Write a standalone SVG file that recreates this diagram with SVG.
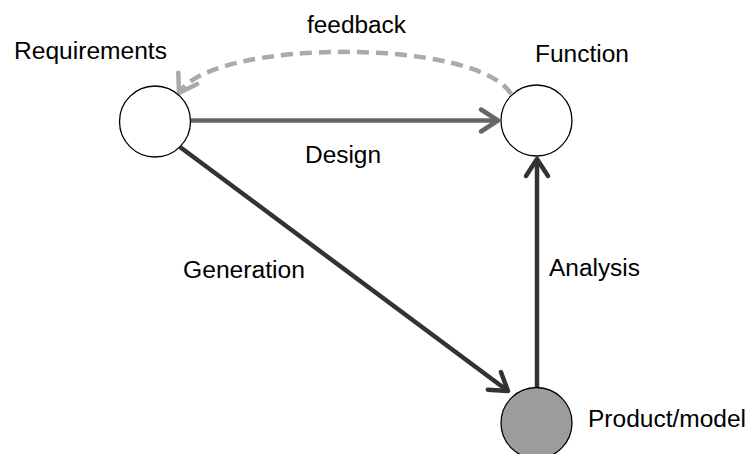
<svg xmlns="http://www.w3.org/2000/svg" width="749" height="454" viewBox="0 0 749 454">
  <style>
    .lbl { font-family: "Liberation Sans", Arial, sans-serif; font-size: 23px; fill: #000; }
    .node { stroke: #000; stroke-width: 1.3; }
    .edge { fill: none; stroke-width: 4.5; }
  </style>
  <defs>
    <marker id="arrMid" markerUnits="userSpaceOnUse" markerWidth="30" markerHeight="30" refX="0" refY="0" viewBox="-22 -15 26 30" orient="auto">
      <path d="M-17,-11 L0,0 L-17,11" fill="none" stroke="#666" stroke-width="4.5" stroke-linecap="round" stroke-linejoin="round"/>
    </marker>
    <marker id="arrDark" markerUnits="userSpaceOnUse" markerWidth="30" markerHeight="30" refX="0" refY="0" viewBox="-22 -15 26 30" orient="auto">
      <path d="M-17,-11 L0,0 L-17,11" fill="none" stroke="#333" stroke-width="4.5" stroke-linecap="round" stroke-linejoin="round"/>
    </marker>
    <marker id="arrLight" markerUnits="userSpaceOnUse" markerWidth="30" markerHeight="30" refX="0" refY="0" viewBox="-22 -15 26 30" orient="auto">
      <path d="M-17,-11 L0,0 L-17,11" fill="none" stroke="#aaa" stroke-width="4.5" stroke-linecap="round" stroke-linejoin="round"/>
    </marker>
  </defs>
  <rect width="749" height="454" fill="#fff"/>

  <g id="connectors">
    <!-- Design: Requirements -> Function -->
    <path class="edge" d="M191,120.5 L498,120.5" stroke="#666" marker-end="url(#arrMid)"/>
    <!-- Generation: Requirements -> Product/model -->
    <path class="edge" d="M180,147 L508,391" stroke="#333" marker-end="url(#arrDark)"/>
    <!-- Analysis: Product/model -> Function -->
    <path class="edge" d="M537,387 L537,159" stroke="#333" marker-end="url(#arrDark)"/>
    <!-- feedback: Function -> Requirements -->
    <path class="edge" d="M511,94 C478,38 212,38 179,93" stroke="#aaa" stroke-dasharray="12,7" marker-end="url(#arrLight)"/>
  </g>

  <g id="node-requirements">
    <circle class="node" cx="155" cy="121.5" r="35.5" fill="#fff"/>
    <text class="lbl" x="14" y="59" textLength="153" lengthAdjust="spacingAndGlyphs">Requirements</text>
  </g>
  <g id="node-function">
    <circle class="node" cx="536.5" cy="120.5" r="35.5" fill="#fff"/>
    <text class="lbl" x="535" y="62" textLength="94" lengthAdjust="spacingAndGlyphs">Function</text>
  </g>
  <g id="node-product">
    <circle class="node" cx="536.5" cy="423" r="35.5" fill="#9c9c9c"/>
    <text class="lbl" x="588" y="427" textLength="158" lengthAdjust="spacingAndGlyphs">Product/model</text>
  </g>

  <g id="edge-labels">
    <text class="lbl" x="307" y="33" textLength="99" lengthAdjust="spacingAndGlyphs">feedback</text>
    <text class="lbl" x="305" y="163" textLength="76" lengthAdjust="spacingAndGlyphs">Design</text>
    <text class="lbl" x="183" y="278" textLength="122" lengthAdjust="spacingAndGlyphs">Generation</text>
    <text class="lbl" x="549" y="276" textLength="91" lengthAdjust="spacingAndGlyphs">Analysis</text>
  </g>
</svg>
